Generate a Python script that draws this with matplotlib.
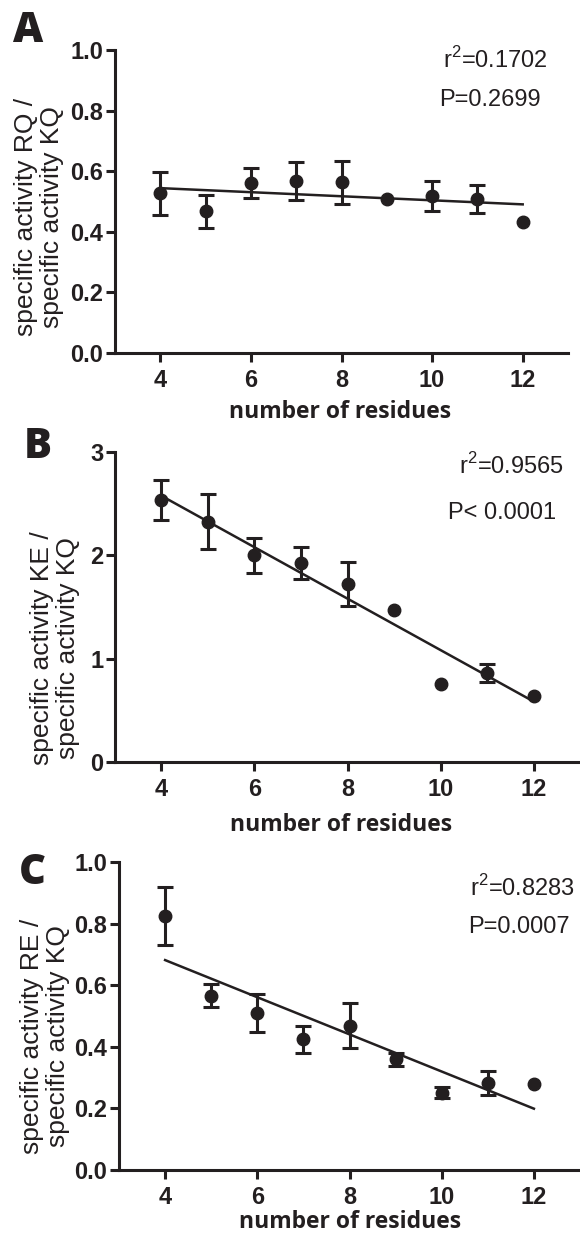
import numpy as np
import matplotlib
matplotlib.use("Agg")
from matplotlib import pyplot as plt

# data
residues = np.array([4, 5, 6, 7, 8, 9, 10, 11, 12])

rq_mean = np.array([0.527, 0.468, 0.562, 0.568, 0.563, 0.508, 0.519, 0.508, 0.433])
rq_err = np.array([0.070, 0.055, 0.050, 0.062, 0.070, 0.0, 0.050, 0.045, 0.0])

ke_mean = np.array([2.534, 2.323, 2.000, 1.926, 1.724, 1.468, 0.752, 0.862, 0.638])
ke_err = np.array([0.194, 0.266, 0.170, 0.157, 0.210, 0.0, 0.0, 0.083, 0.0])

re_mean = np.array([0.825, 0.566, 0.509, 0.424, 0.468, 0.359, 0.251, 0.283, 0.278])
re_err = np.array([0.094, 0.038, 0.062, 0.045, 0.073, 0.020, 0.018, 0.040, 0.0])

panels = [
    {"letter": "A", "mean": rq_mean, "err": rq_err,
     "ylabel": "specific activity RQ /\nspecific activity KQ",
     "yticks": [0.0, 0.2, 0.4, 0.6, 0.8, 1.0], "yfmt": "{:.1f}",
     "r2": "0.1702", "p": "P=0.2699"},
    {"letter": "B", "mean": ke_mean, "err": ke_err,
     "ylabel": "specific activity KE /\nspecific activity KQ",
     "yticks": [0, 1, 2, 3], "yfmt": "{:d}",
     "r2": "0.9565", "p": "P< 0.0001"},
    {"letter": "C", "mean": re_mean, "err": re_err,
     "ylabel": "specific activity RE /\nspecific activity KQ",
     "yticks": [0.0, 0.2, 0.4, 0.6, 0.8, 1.0], "yfmt": "{:.1f}",
     "r2": "0.8283", "p": "P=0.0007"},
]

W, H = 580, 1239
INK = "#231f20"

plt.rcParams["mathtext.fontset"] = "custom"
plt.rcParams["mathtext.rm"] = "Liberation Sans"

# layout in pixels: (left, right, top, bottom) of each axes
boxes = [(115, 568, 50, 353), (115, 580, 452, 762), (119, 580, 862, 1170)]
letter_pos = [(28, 31), (38, 447), (32, 873)]
ylabel_pos = [(39, 217), (55, 648), (45, 1036)]
stat_pos = [(548, 60, 541, 100), (564, 466, 556, 513), (575, 888, 570, 927)]
xlabel_pos = [(340, 412), (341, 825), (350, 1222)]

tick_font = ["Liberation Sans", "DejaVu Sans"]
text_font = ["Liberation Sans", "DejaVu Sans"]
label_font = ["Open Sans", "DejaVu Sans"]


def fx(px):
    return px / W


def fy(py):
    return 1 - py / H


fig = plt.figure(figsize=(W / 100, H / 100), dpi=100)

for i, pan in enumerate(panels):
    l, r, t, b = boxes[i]
    ax = fig.add_axes([fx(l), fy(b), (r - l) / W, (b - t) / H])

    # fit line through the means
    slope, icpt = np.polyfit(residues, pan["mean"], 1)
    xs = np.array([residues.min(), residues.max()])
    ax.plot(xs, slope * xs + icpt, color=INK, lw=1.8, zorder=2)

    has_err = pan["err"] > 0
    ax.errorbar(residues[has_err], pan["mean"][has_err], yerr=pan["err"][has_err],
                fmt="none", ecolor=INK, elinewidth=2.2, capsize=6, capthick=2.2, zorder=3)
    ax.plot(residues, pan["mean"], "o", color=INK, ms=9, zorder=4)

    ax.set_xlim(3, 13)
    ax.set_ylim(pan["yticks"][0], pan["yticks"][-1])
    ax.set_xticks([4, 6, 8, 10, 12])
    ax.set_yticks(pan["yticks"])
    ax.set_yticklabels([pan["yfmt"].format(v) for v in pan["yticks"]])

    for s in ["top", "right"]:
        ax.spines[s].set_visible(False)
    for s in ["left", "bottom"]:
        ax.spines[s].set_linewidth(2.2)
        ax.spines[s].set_color(INK)
        ax.spines[s].set_capstyle("projecting")
    ax.tick_params(direction="out", length=6.5, width=2.2, color=INK, pad=2)
    ax.tick_params(axis="x", pad=5)
    for lab in ax.get_xticklabels() + ax.get_yticklabels():
        lab.set_fontfamily(tick_font)
        lab.set_fontweight("bold")
        lab.set_fontsize(17)
        lab.set_color(INK)

    # panel letter, axis labels and stats
    lx, ly = letter_pos[i]
    fig.text(fx(lx), fy(ly), pan["letter"], ha="center", va="center",
             fontsize=30, fontweight="heavy", family=label_font, color=INK)
    yx, yy = ylabel_pos[i]
    fig.text(fx(yx), fy(yy), pan["ylabel"], rotation=90, ha="center", va="center",
             multialignment="center", fontsize=19, family=text_font, color=INK,
             linespacing=1.15)
    xx, xy = xlabel_pos[i]
    fig.text(fx(xx), fy(xy), "number of residues", ha="center",
             va="center", fontsize=16.5, fontweight="bold", family=label_font, color=INK)
    rx, ry, px, py = stat_pos[i]
    fig.text(fx(rx), fy(ry), r"r$^{2}$=" + pan["r2"], ha="right", va="center",
             fontsize=17, family=text_font, color=INK)
    fig.text(fx(px), fy(py), pan["p"], ha="right", va="center",
             fontsize=17, family=text_font, color=INK)

fig.savefig("out.png", dpi=100)
